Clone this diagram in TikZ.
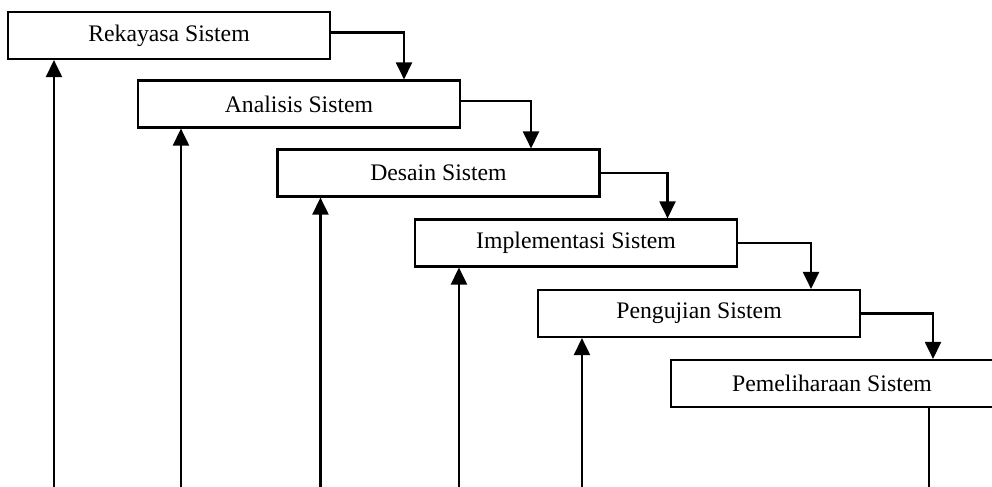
\documentclass[tikz,border=0pt]{standalone}
\usepackage{fontspec}
\setmainfont{Liberation Serif}
\usetikzlibrary{arrows.meta}

\begin{document}
\begin{tikzpicture}[x=0.02cm,y=-0.02cm,
  tahap/.style={draw,line width=1.2pt,minimum width=6.44cm,minimum height=0.94cm,
    inner sep=0pt,font=\fontsize{13.5}{16}\selectfont},
  alur/.style={line width=1.2pt,-{Triangle[width=0.32cm,length=0.34cm]}},
  garis/.style={line width=1.2pt}]
  \useasboundingbox (0,0) rectangle (992,487);
  \coordinate (dasar) at (0,487);

  \node[tahap] (rek) at (169,35.5) {Rekayasa Sistem};
  \node[tahap] (ana) at (299,104) {Analisis Sistem};
  \node[tahap] (des) at (438.5,173) {Desain Sistem};
  \node[tahap] (imp) at (576,243) {Implementasi Sistem};
  \node[tahap] (pen) at (699,313.5) {Pengujian Sistem};
  \node[tahap] (pem) at (832,383.5) {Pemeliharaan Sistem};

  % turun ke tahap berikutnya
  \draw[alur] ([yshift=0.06cm]rek.east) -- ++(73,0) coordinate (t1) -- (t1 |- ana.north);
  \draw[alur] ([yshift=0.06cm]ana.east) -- ++(70,0) coordinate (t2) -- (t2 |- des.north);
  \draw[alur] (des.east) -- ++(67,0) coordinate (t3) -- (t3 |- imp.north);
  \draw[alur] (imp.east) -- ++(73,0) coordinate (t4) -- (t4 |- pen.north);
  \draw[alur] (pen.east) -- ++(72,0) coordinate (t5) -- (t5 |- pem.north);

  % umpan balik
  \draw[garis] ([xshift=1.94cm]pem.south) -- ([xshift=1.94cm]pem.south |- dasar);
  \draw[alur] ([xshift=0.94cm]rek.south west |- dasar) -- ([xshift=0.94cm]rek.south west);
  \draw[alur] ([xshift=0.88cm]ana.south west |- dasar) -- ([xshift=0.88cm]ana.south west);
  \draw[alur] ([xshift=0.88cm]des.south west |- dasar) -- ([xshift=0.88cm]des.south west);
  \draw[alur] ([xshift=0.9cm]imp.south west |- dasar) -- ([xshift=0.9cm]imp.south west);
  \draw[alur] ([xshift=0.9cm]pen.south west |- dasar) -- ([xshift=0.9cm]pen.south west);
\end{tikzpicture}
\end{document}
